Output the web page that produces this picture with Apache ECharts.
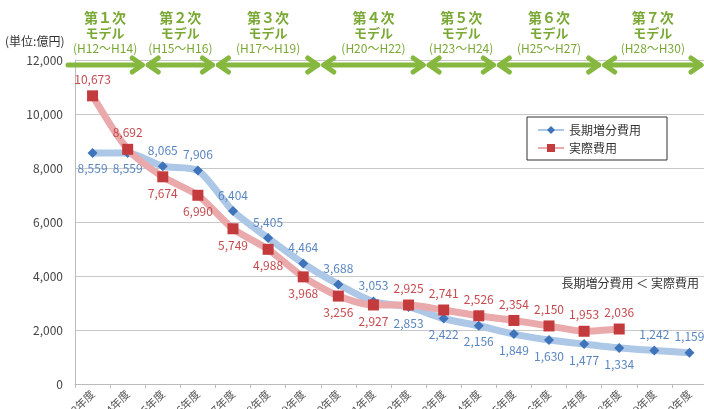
<!DOCTYPE html>
<html><head><meta charset="utf-8">
<script src="https://cdn.jsdelivr.net/npm/echarts@6/dist/echarts.min.js"></script>
<style>html,body{margin:0;padding:0;background:#fff}#c{width:704px;height:409px}</style>
</head><body><div id="c"></div>
<script>
const categories = ['H13年度','H14年度','H15年度','H16年度','H17年度','H18年度','H19年度','H20年度','H21年度','H22年度','H23年度','H24年度','H25年度','H26年度','H27年度','H28年度','H29年度','H30年度'];
const lricValues = [8559,8559,8065,7906,6404,5405,4464,3688,3053,2853,2422,2156,1849,1630,1477,1334,1242,1159];
const actualValues = [10673,8692,7674,6990,5749,4988,3968,3256,2927,2925,2741,2526,2354,2150,1953,2036,null,null];
const lricLabelPos = ['bottom','bottom','top','top','top','top','top','top','top','bottom','bottom','bottom','bottom','bottom','bottom','bottom','top','top'];
const actualLabelPos = ['top','top','bottom','bottom','bottom','bottom','bottom','bottom','bottom','top','top','top','top','top','top','top','top','top'];
const modelNames = ['第１次','第２次','第３次','第４次','第５次','第６次','第７次'];
const modelRanges = ['(H12～H14)','(H15～H16)','(H17～H19)','(H20～H22)','(H23～H24)','(H25～H27)','(H28～H30)'];
const modelStart = [0,2,4,7,10,12,15];
const modelEnd = [1,3,6,9,11,14,17];

const FONT = '"Noto Sans CJK JP", "Noto Sans", sans-serif';
const GREEN = '#86b83f';
const chart = echarts.init(document.getElementById('c'));
const fmt = v => v.toLocaleString('en-US');

function mk(values, pos) {
  return values.map((v, i) => v == null ? null : ({ value: v, label: { position: pos[i] } }));
}

chart.setOption({
  animation: false,
  textStyle: { fontFamily: FONT },
  grid: { left: 75, right: -3, top: 60, bottom: 25, containLabel: false, outerBoundsMode: 'none' },
  xAxis: {
    type: 'category', data: categories, boundaryGap: true,
    axisLine: { lineStyle: { color: '#bbb' } },
    axisTick: { show: true, length: 4, lineStyle: { color: '#bbb' } },
    axisLabel: { rotate: 45, fontSize: 11, color: '#555', margin: 8, interval: 0 }
  },
  yAxis: {
    type: 'value', min: 0, max: 12000, interval: 2000,
    axisLine: { show: true, lineStyle: { color: '#bbb' } },
    axisTick: { show: false },
    splitLine: { lineStyle: { color: '#c8c8c8' } },
    axisLabel: { formatter: v => fmt(v), color: '#444', fontSize: 12, margin: 12 }
  },
  legend: {
    orient: 'vertical', left: 527, top: 117,
    data: ['長期増分費用','実際費用'],
    backgroundColor: '#fff', borderColor: '#333', borderWidth: 1,
    padding: [7, 26, 6, 10], itemGap: 6, itemWidth: 26, itemHeight: 10,
    textStyle: { fontSize: 12, color: '#333', fontFamily: FONT }
  },
  series: [
    {
      name: '長期増分費用', type: 'line', data: mk(lricValues, lricLabelPos), smooth: 0.25,
      symbol: 'diamond', symbolSize: 10, z: 3,
      lineStyle: { color: '#adc7e7', width: 7 },
      itemStyle: { color: '#3f74ba' },
      label: { show: true, formatter: p => fmt(p.value), color: '#5a86c0', fontSize: 12, distance: 5 }
    },
    {
      name: '実際費用', type: 'line', data: mk(actualValues, actualLabelPos), smooth: 0.25,
      symbol: 'rect', symbolSize: 11, z: 4,
      lineStyle: { color: '#eaaaac', width: 7 },
      itemStyle: { color: '#c43b3e' },
      label: { show: true, formatter: p => fmt(p.value), color: '#c64a4e', fontSize: 12, distance: 5 }
    }
  ]
});

// annotations: model arrows & labels derived from category bands
const half = (chart.convertToPixel({ xAxisIndex: 0 }, 1) - chart.convertToPixel({ xAxisIndex: 0 }, 0)) / 2;
const g = [];
const ay = 65;
g.push({ type: 'text', left: 5, top: 35, style: { text: '(単位:億円)', font: '12px ' + FONT, fill: '#333' } });
g.push({ type: 'text', right: 5, top: 277, style: { text: '長期増分費用 ＜ 実際費用', font: '12px ' + FONT, fill: '#333' } });
for (let k = 0; k < modelNames.length; k++) {
  let x1 = chart.convertToPixel({ xAxisIndex: 0 }, modelStart[k]) - half + 3;
  let x2 = chart.convertToPixel({ xAxisIndex: 0 }, modelEnd[k]) + half - 3;
  if (k === 0) x1 -= 10;
  if (k === modelNames.length - 1) x2 = Math.min(x2, 701);
  const cx = (x1 + x2) / 2;
  const ls = { stroke: GREEN, lineWidth: 5, lineCap: 'round', lineJoin: 'round' };
  g.push({ type: 'line', shape: { x1: x1, y1: ay, x2: x2, y2: ay }, style: ls, z: 10 });
  g.push({ type: 'polyline', shape: { points: [[x2 - 10, ay - 7], [x2, ay], [x2 - 10, ay + 7]] }, style: Object.assign({ fill: null }, ls), z: 10 });
  if (k > 0) g.push({ type: 'polyline', shape: { points: [[x1 + 10, ay - 7], [x1, ay], [x1 + 10, ay + 7]] }, style: Object.assign({ fill: null }, ls), z: 10 });
  g.push({ type: 'text', x: cx, y: 18, style: { text: modelNames[k], font: 'bold 14px ' + FONT, fill: '#7aa835', align: 'center', verticalAlign: 'middle' }, z: 10 });
  g.push({ type: 'text', x: cx, y: 33, style: { text: 'モデル', font: 'bold 13px ' + FONT, fill: '#7aa835', align: 'center', verticalAlign: 'middle' }, z: 10 });
  g.push({ type: 'text', x: cx, y: 48, style: { text: modelRanges[k], font: '12px ' + FONT, fill: '#7aa835', align: 'center', verticalAlign: 'middle' }, z: 10 });
}
chart.setOption({ graphic: g });
</script></body></html>
